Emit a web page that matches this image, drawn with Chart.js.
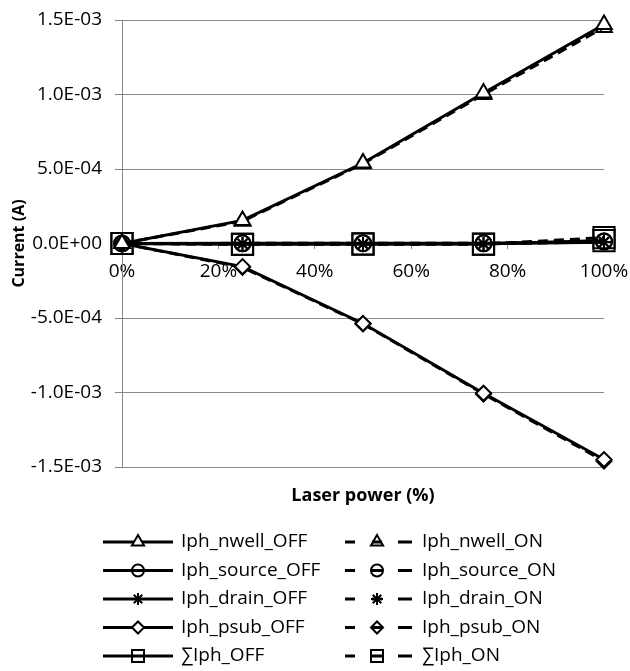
<!DOCTYPE html>
<html>
<head>
<meta charset="utf-8">
<script src="https://cdn.jsdelivr.net/npm/chart.js@4.4.1/dist/chart.umd.min.js"></script>
<style>
html,body{margin:0;padding:0;background:#ffffff;}
#wrap{width:630px;height:671px;position:relative;}
</style>
</head>
<body>
<div id="wrap"><canvas id="c"></canvas></div>
<script>
// ---------- data ----------
const laserPower = [0, 0.25, 0.5, 0.75, 1.0];
const xTickValues = [0, 0.2, 0.4, 0.6, 0.8, 1.0];
const yTickValues = [-0.0015, -0.001, -0.0005, 0, 0.0005, 0.001, 0.0015];

const seriesNames = ['Iph_nwell_OFF', 'Iph_nwell_ON', 'Iph_source_OFF', 'Iph_source_ON',
  'Iph_drain_OFF', 'Iph_drain_ON', 'Iph_psub_OFF', 'Iph_psub_ON', '\u2211Iph_OFF', '\u2211Iph_ON'];

const nwellOff  = [0, 1.55e-4, 5.40e-4, 1.01e-3, 1.47e-3];
const nwellOn   = [0, 1.50e-4, 5.35e-4, 1.00e-3, 1.45e-3];
const sourceOff = [0, 1e-6, 2e-6, 1e-6, 1.2e-5];
const sourceOn  = [0, 1e-6, 2e-6, 1e-6, 1.5e-5];
const drainOff  = [0, -2e-6, -3e-6, -2e-6, 8e-6];
const drainOn   = [0, -2e-6, -3e-6, -2e-6, 1.0e-5];
const psubOff   = [0, -1.55e-4, -5.37e-4, -1.005e-3, -1.45e-3];
const psubOn    = [0, -1.60e-4, -5.40e-4, -1.010e-3, -1.46e-3];
const sumOff    = [0, -5e-6, -3e-6, -4e-6, 2.0e-5];
const sumOn     = [0, -6e-6, -4e-6, -5e-6, 4.0e-5];

const seriesValues = [nwellOff, nwellOn, sourceOff, sourceOn, drainOff, drainOn, psubOff, psubOn, sumOff, sumOn];

// ---------- styles ----------
const FONT = '"Open Sans", "Liberation Sans", sans-serif';
const GRID = '#878787';
const markerStyle = ['triangle', 'triangle', 'circle', 'circle', 'star', 'star', 'rectRot', 'rectRot', 'rect', 'rect'];
const markerRadius = [9, 9, 8, 8, 7, 7, 7.5, 7.5, 15, 15];
const legendRadius = [7, 7, 6, 6, 6, 6, 6, 6, 8.5, 8.5];
const markerFill = ['#ffffff', 'rgba(0,0,0,0)', 'rgba(0,0,0,0)', 'rgba(0,0,0,0)', 'rgba(0,0,0,0)', 'rgba(0,0,0,0)',
  '#ffffff', 'rgba(0,0,0,0)', 'rgba(0,0,0,0)', 'rgba(0,0,0,0)'];

function sci(v) {
  if (Math.abs(v) < 1e-12) v = 0;
  const s = Number(v).toExponential(1);
  const parts = s.split('e');
  const sign = parts[1][0] === '-' ? '-' : '+';
  const d = parts[1].replace(/^[+-]/, '').padStart(2, '0');
  return parts[0] + 'E' + sign + d;
}

const datasets = seriesNames.map((name, i) => ({
  label: name,
  data: laserPower.map((x, j) => ({x: x, y: seriesValues[i][j]})),
  borderColor: '#000000',
  borderWidth: 3,
  borderDash: (i % 2 === 1) ? [10, 6] : [],
  pointStyle: markerStyle[i],
  pointRadius: markerRadius[i],
  pointBorderWidth: 2,
  pointBorderColor: '#000000',
  pointBackgroundColor: markerFill[i],
  fill: false,
  tension: 0,
  clip: false
}));

// ---------- custom two-column legend ----------
const legendPlugin = {
  id: 'twoColLegend',
  afterDraw(chart) {
    const ctx = chart.ctx;
    const rowY0 = 542, rowGap = 28.5;
    ctx.save();
    ctx.font = '19px ' + FONT;
    ctx.textBaseline = 'middle';
    ctx.textAlign = 'left';
    chart.data.datasets.forEach((d, i) => {
      const row = Math.floor(i / 2), col = i % 2;
      const y = rowY0 + row * rowGap;
      ctx.strokeStyle = '#000';
      ctx.lineWidth = 3;
      ctx.setLineDash([]);
      let mx, tx;
      if (col === 0) {
        ctx.beginPath(); ctx.moveTo(103, y); ctx.lineTo(173, y); ctx.stroke();
        mx = 138; tx = 181;
      } else {
        ctx.beginPath();
        ctx.moveTo(345, y); ctx.lineTo(355, y);
        ctx.moveTo(372, y); ctx.lineTo(382, y);
        ctx.moveTo(398, y); ctx.lineTo(412, y);
        ctx.stroke();
        mx = 377; tx = 422;
      }
      ctx.lineWidth = 2;
      ctx.fillStyle = markerFill[i];
      Chart.helpers.drawPoint(ctx, {pointStyle: markerStyle[i], radius: legendRadius[i], borderWidth: 2, rotation: 0}, mx, y);
      ctx.fillStyle = '#000';
      ctx.fillText(d.label, tx, y);
    });
    ctx.restore();
  }
};

new Chart(document.getElementById('c'), {
  type: 'line',
  data: {datasets: datasets},
  plugins: [legendPlugin],
  options: {
    responsive: true,
    maintainAspectRatio: false,
    animation: false,
    events: [],
    layout: {padding: {top: 20, right: 26, bottom: 160, left: 0}},
    plugins: {legend: {display: false}, tooltip: {enabled: false}},
    scales: {
      x: {
        type: 'linear',
        position: {y: 0},
        min: 0, max: 1,
        afterBuildTicks: s => { s.ticks = xTickValues.map(v => ({value: v})); },
        afterFit: s => { s.paddingLeft = 0; s.paddingRight = 0; },
        ticks: {
          callback: v => Math.round(v * 100) + '%',
          color: '#000', font: {family: FONT, size: 19}, padding: 12, maxRotation: 0
        },
        grid: {drawOnChartArea: false, drawTicks: true, tickLength: 5, color: GRID},
        border: {display: true, color: GRID}
      },
      x2: {
        type: 'linear',
        position: 'bottom',
        min: 0, max: 1,
        afterFit: s => { s.height = 44; s.paddingLeft = 0; s.paddingRight = 0; },
        ticks: {display: false},
        grid: {display: false},
        border: {display: false},
        title: {display: true, text: 'Laser power (%)', color: '#000',
          font: {family: FONT, size: 18, weight: 'bold'}, padding: {top: 4, bottom: 4}}
      },
      y: {
        type: 'linear',
        position: 'left',
        min: -0.0015, max: 0.0015,
        afterBuildTicks: s => { s.ticks = yTickValues.map(v => ({value: v})); },
        afterFit: s => { s.width = 122; s.paddingTop = 0; s.paddingBottom = 0; },
        ticks: {callback: v => sci(v), color: '#000', font: {family: FONT, size: 19}, padding: 13},
        grid: {color: GRID, lineWidth: 1, drawTicks: true, tickLength: 7},
        border: {display: true, color: GRID},
        title: {display: true, text: 'Current (A)', color: '#000',
          font: {family: FONT, size: 16, weight: 'bold'}, padding: {top: 10, bottom: 4}}
      }
    }
  }
});
</script>
</body>
</html>
